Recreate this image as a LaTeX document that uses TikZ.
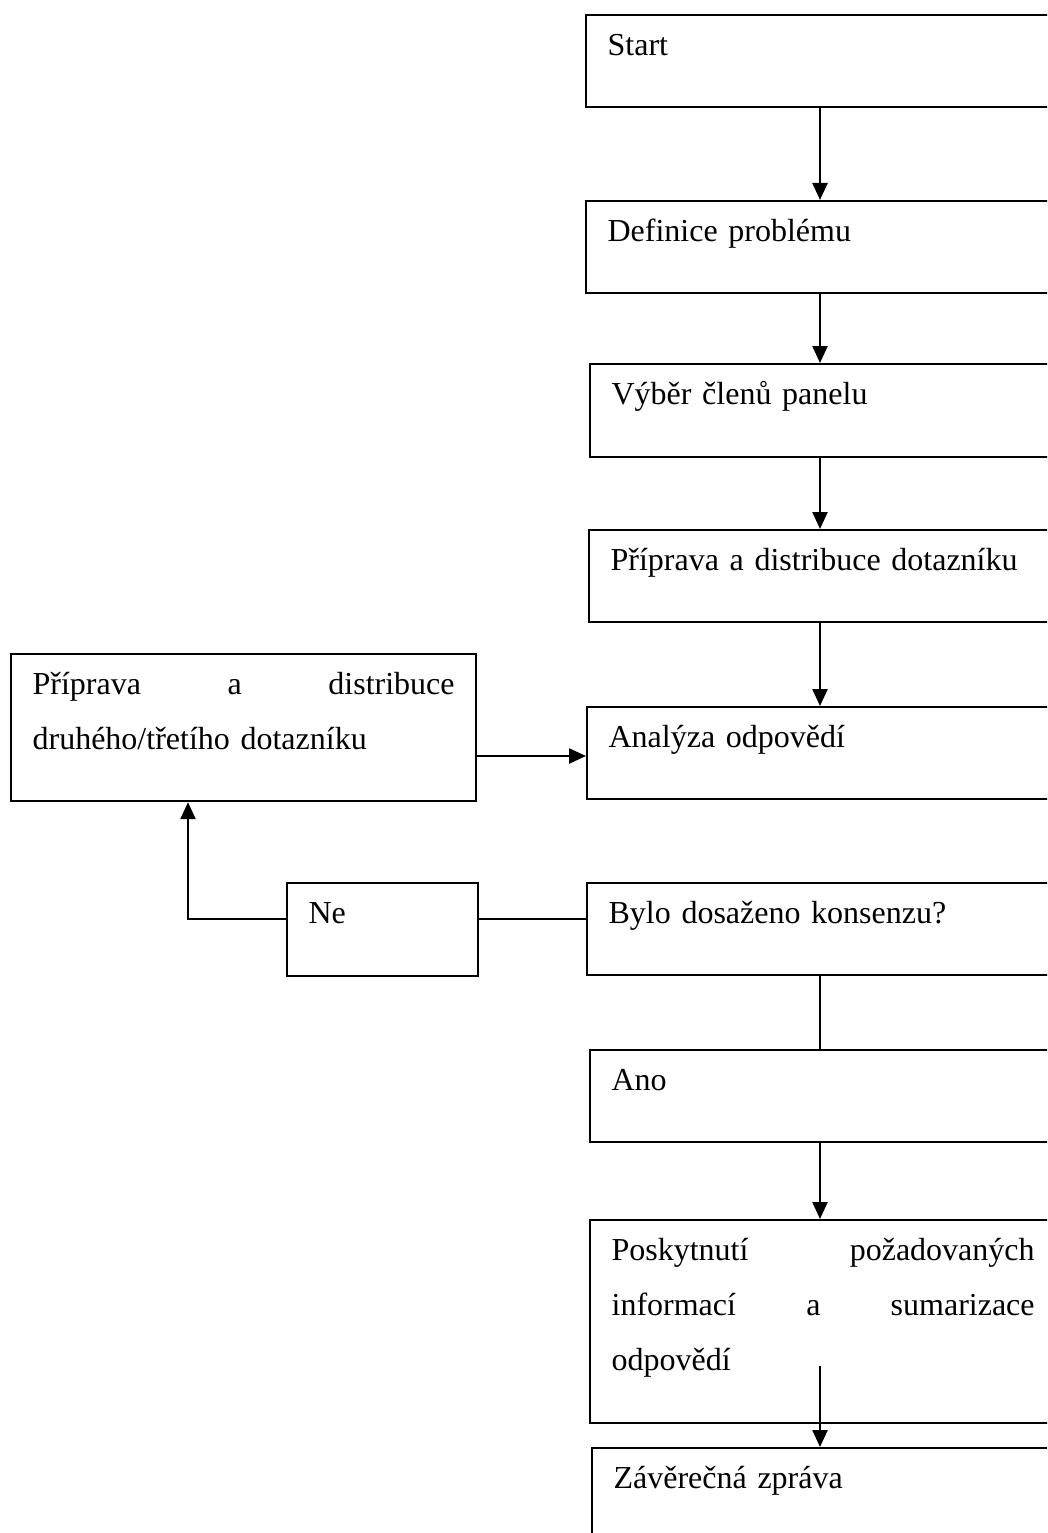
\documentclass[tikz,border=0pt]{standalone}
\usepackage{fontspec}
\setmainfont{Liberation Serif}
\usetikzlibrary{arrows.meta}

\begin{document}
\begin{tikzpicture}[x=1pt,y=-1pt,
  every node/.style={font=\fontsize{32}{55}\selectfont},
  stepbox/.style={draw,line width=2.2pt,anchor=north west,align=left,text width=423pt,
    inner xsep=21.5pt,inner ysep=0pt,text height=40pt,text depth=#1},
  stepbox/.default=52pt,
  arr/.style={line width=2.4pt,-{Triangle[length=17pt,width=15pt]}},
  link/.style={line width=1.5pt}]
\useasboundingbox (0,0) rectangle (1047,1533);
\clip (0,0) rectangle (1047,1533);
\coordinate (spine) at (820,0);
\node[stepbox] (start) at (585,14) {Start};
\node[stepbox] (defn) at (585,200) {Definice problému};
\node[stepbox=53pt] (vyber) at (589,363) {Výběr členů panelu};
\node[stepbox] (prip) at (588,529) {Příprava a distribuce dotazníku};
\node[stepbox] (anal) at (586,706) {Analýza odpovědí};
\node[stepbox] (bylo) at (586,882) {Bylo dosaženo konsenzu?};
\node[stepbox] (ano) at (589,1049) {Ano};
\node[stepbox=163pt] (posk) at (589,1219) {Poskytnutí \hfill požadovaných\\ informací \hfill a \hfill sumarizace\\ odpovědí};
\node[stepbox=120pt] (zav) at (591,1447) {Závěrečná zpráva};
\node[stepbox=107pt,text width=422pt] (druhy) at (10,653) {Příprava \hfill a \hfill distribuce\\ druhého/třetího dotazníku};
\node[stepbox=53pt,text width=148pt] (ne) at (286,882) {Ne};
\foreach \a/\b in {start/defn,defn/vyber,vyber/prip,prip/anal,ano/posk}
  \draw[arr] (\a.south -| spine) -- (\b.north -| spine);
\draw[link] (bylo.south -| spine) -- (ano.north -| spine);
\coordinate (drop) at (820,1366);
\draw[arr] (drop) -- (zav.north -| spine);
\coordinate (into) at (0,756);
\draw[arr] (druhy.east |- into) -- (anal.west |- into);
\coordinate (turn) at (188,919);
\draw[link] (bylo.west |- turn) -- (ne.east |- turn);
\draw[arr] (ne.west |- turn) -- (turn) -- (druhy.south -| turn);
\end{tikzpicture}
\end{document}
